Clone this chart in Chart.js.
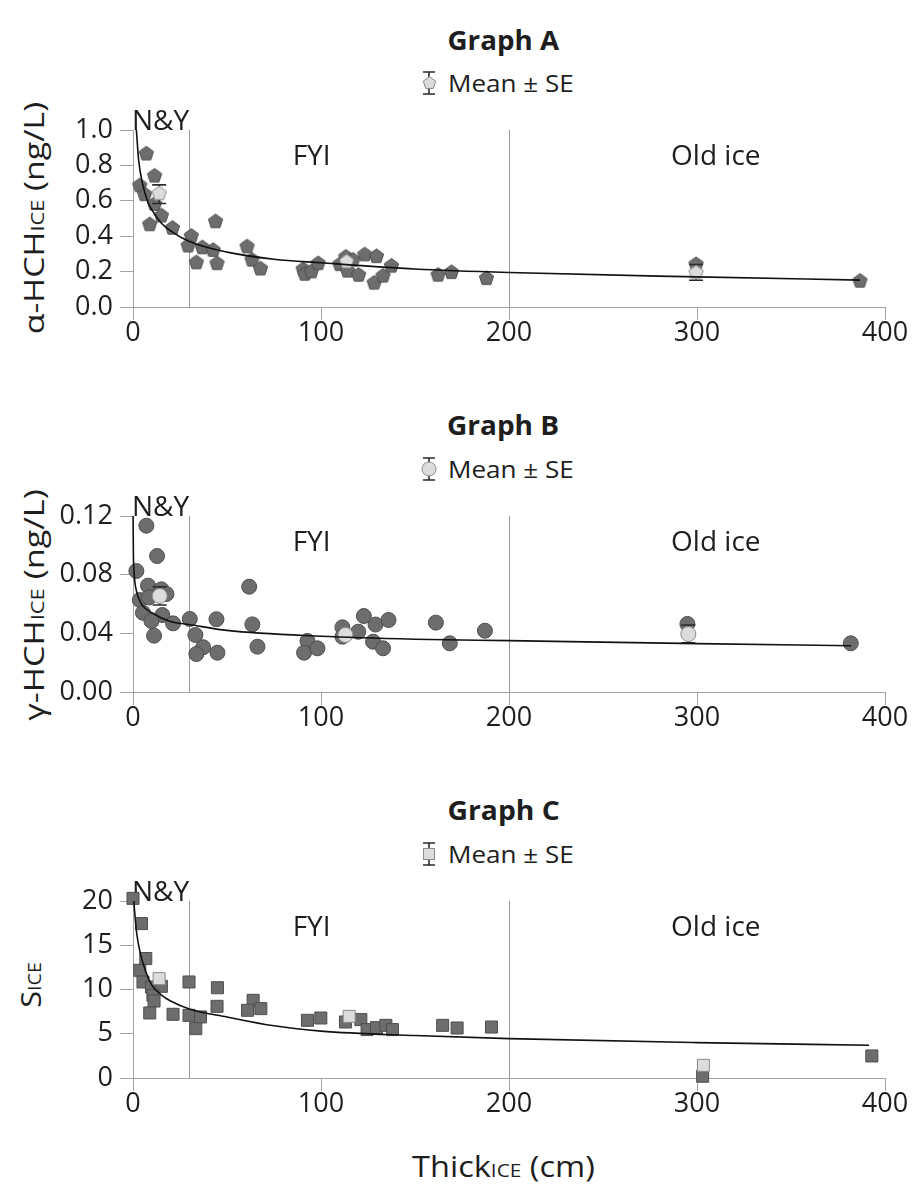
<!DOCTYPE html>
<html><head><meta charset="utf-8">
<script src="https://cdn.jsdelivr.net/npm/chart.js@4.4.1/dist/chart.umd.min.js"></script>
<style>
html,body{margin:0;padding:0;background:#fff;}
body{width:916px;height:1185px;position:relative;overflow:hidden;font-family:"Open Sans",sans-serif;color:#1e1e1e;}
.abs{position:absolute;white-space:nowrap;line-height:1;}
.cv{position:absolute;left:0;}
.sc{font-size:0.64em;}
.title{font-weight:bold;font-size:26px;}
.leg{font-size:24px;display:flex;align-items:center;}
.leg canvas{margin-right:10px;}
.ytitle{font-size:28px;}
</style></head><body>

<div class="abs title fit" data-w="112" data-cx="503" data-cy="40">Graph A</div>
<div class="abs title fit" data-w="112" data-cx="503" data-cy="425">Graph B</div>
<div class="abs title fit" data-w="112" data-cx="503" data-cy="810">Graph C</div>

<div class="abs leg" id="legA" style="left:420px;top:70px;"><canvas id="icoA" width="18" height="26"></canvas><span class="fitl" data-w="126">Mean ± SE</span></div>
<div class="abs leg" id="legB" style="left:420px;top:456px;"><canvas id="icoB" width="18" height="26"></canvas><span class="fitl" data-w="126">Mean ± SE</span></div>
<div class="abs leg" id="legC" style="left:420px;top:841px;"><canvas id="icoC" width="18" height="26"></canvas><span class="fitl" data-w="126">Mean ± SE</span></div>

<div class="abs ytitle fit rot" data-w="232" data-cx="33" data-cy="218">α-HCH<span class="sc">ICE</span> (ng/L)</div>
<div class="abs ytitle fit rot" data-w="232" data-cx="33" data-cy="605">γ-HCH<span class="sc">ICE</span> (ng/L)</div>
<div class="abs ytitle fit rot" data-w="46" data-cx="30" data-cy="985">S<span class="sc">ICE</span></div>
<div class="abs ytitle fit" style="font-size:29px" data-w="183" data-cx="503" data-cy="1165">Thick<span class="sc">ICE</span> (cm)</div>

<canvas id="cA" class="cv" width="916" height="252" style="top:100px;width:916px;height:252px"></canvas>
<canvas id="cB" class="cv" width="916" height="251" style="top:486px;width:916px;height:251px"></canvas>
<canvas id="cC" class="cv" width="916" height="252" style="top:871px;width:916px;height:252px"></canvas>

<script>
// ---------- data ----------
const xTicks = [0, 100, 200, 300, 400];
const zoneBoundaries = [30, 200];
const zoneLabels = ['N&Y', 'FYI', 'Old ice'];
const zoneLabelX = [0, 95, 310];

// Graph A: alpha-HCH (ng/L)
const aX = [7.1,3.6,6.2,11.5,11.5,15.1,8.9,21,31,29.3,36.9,42.6,33.7,44.7,43.9,60.7,63.3,67.8,90.5,91.4,94.9,98.5,110,113.2,114.1,117,120,123.3,129.5,128.3,133,137.5,162.3,169.4,188,299.5,386.7];
const aY = [0.87,0.69,0.64,0.745,0.585,0.52,0.47,0.45,0.405,0.35,0.34,0.325,0.255,0.25,0.487,0.345,0.27,0.22,0.217,0.19,0.204,0.25,0.245,0.287,0.208,0.27,0.185,0.30,0.29,0.14,0.18,0.236,0.185,0.20,0.166,0.245,0.151];
const aMeanX = [13.9, 113.6, 299.5];
const aMeanY = [0.645, 0.26, 0.198];
const aMeanLo = [0.585, null, 0.151];
const aMeanHi = [0.69, null, 0.24];
const aFitX = [1.8,3,5,8,10,15,20,30,50,75,100,150,200,300,386.7];
const aFitY = [1.0,0.83,0.70,0.59,0.55,0.475,0.43,0.37,0.31,0.27,0.25,0.215,0.195,0.17,0.152];
const aYTicks = [0, 0.2, 0.4, 0.6, 0.8, 1.0];

// Graph B: gamma-HCH (ng/L)
const bX = [7.1,12.8,1.8,8.0,15.1,17.8,3.6,8.5,5.3,15.6,9.8,21.3,11.2,30.2,33.2,37.3,33.7,44.4,44.9,61.8,63.5,66.2,92.8,91,98.1,111.4,111.4,119.8,122.8,129,127.7,133,135.9,161.1,168.5,187.2,294.9,381.8];
const bY = [0.1134,0.0927,0.0825,0.0725,0.070,0.0668,0.0627,0.0645,0.054,0.0525,0.0484,0.0468,0.0384,0.0498,0.0389,0.0305,0.0259,0.0496,0.0268,0.0718,0.0461,0.0309,0.0348,0.0268,0.0298,0.0441,0.0377,0.0411,0.0518,0.046,0.0343,0.0298,0.0491,0.0473,0.0332,0.0418,0.0464,0.0332];
const bMeanX = [14.2, 113, 295.4];
const bMeanY = [0.0655, 0.0389, 0.0395];
const bMeanLo = [0.0593, null, 0.0336];
const bMeanHi = [0.0718, null, 0.0457];
const bFitX = [0.05,0.2,0.5,1,2,3,5,10,20,30,50,100,150,200,300,382];
const bFitY = [0.12,0.095,0.083,0.075,0.068,0.064,0.059,0.054,0.048,0.046,0.042,0.038,0.036,0.035,0.033,0.0315];
const bYTicks = [0, 0.04, 0.08, 0.12];

// Graph C: S_ICE
const cX = [0,4.5,6.8,3.6,5.3,9.8,15.1,10.6,11.2,8.9,21.3,29.8,29.8,35.9,33.4,44.9,44.7,63.9,60.9,68,92.8,99.9,113,121.2,124.5,129.5,134.5,138,164.7,172.4,190.7,303,393];
const cY = [20.3,17.45,13.5,12.17,10.85,10.28,10.36,9.35,8.7,7.35,7.2,10.85,7.08,6.9,5.58,10.2,8.1,8.78,7.65,7.84,6.52,6.78,6.33,6.6,5.47,5.69,5.95,5.47,5.95,5.65,5.76,0.2,2.49];
const cMeanX = [13.9, 115, 303.4];
const cMeanY = [11.23, 6.97, 1.43];
const cMeanLo = [null, null, null];
const cMeanHi = [null, null, null];
const cFitX = [0.4,1,2,4,7,10,15,20,30,50,75,100,150,200,300,391.5];
const cFitY = [20,18.5,16.3,14,11.9,10.5,9.4,8.7,7.8,6.9,5.9,5.3,4.8,4.45,4.0,3.7];
const cYTicks = [0, 5, 10, 15, 20];

// ---------- styling helpers ----------
const DARK = '#6d6d6d', DARK_EDGE = '#4f4f4f', LIGHT = '#dcdcdc', LIGHT_EDGE = '#8a8a8a';
const AXIS = '#a3a3a3';

function pentagon(fill, stroke, size) {
  const c = document.createElement('canvas');
  c.width = size; c.height = size;
  const g = c.getContext('2d');
  const r = size / 2 - 1;
  g.beginPath();
  for (let i = 0; i < 5; i++) {
    const a = -Math.PI / 2 + i * 2 * Math.PI / 5;
    const px = size / 2 + r * Math.cos(a), py = size / 2 + r * Math.sin(a) + r * 0.1;
    if (i) g.lineTo(px, py); else g.moveTo(px, py);
  }
  g.closePath();
  g.fillStyle = fill; g.fill();
  g.strokeStyle = stroke; g.lineWidth = 1; g.stroke();
  return c;
}
const pentDark = pentagon(DARK, DARK_EDGE, 17);
const pentLight = pentagon(LIGHT, LIGHT_EDGE, 17);
const pentIcon = pentagon(LIGHT, LIGHT_EDGE, 15);

const pts = (xs, ys) => xs.map((x, i) => ({x, y: ys[i]}));

const zonesPlugin = {
  id: 'zones',
  beforeDatasetsDraw(chart) {
    const {ctx, chartArea: a, scales: {x}} = chart;
    ctx.save();
    ctx.strokeStyle = '#9a9a9a'; ctx.lineWidth = 1;
    zoneBoundaries.forEach(v => {
      const px = Math.round(x.getPixelForValue(v)) + 0.5;
      ctx.beginPath(); ctx.moveTo(px, a.top); ctx.lineTo(px, a.bottom); ctx.stroke();
    });
    ctx.fillStyle = '#1e1e1e';
    ctx.font = '28px "Open Sans"';
    ctx.textBaseline = 'alphabetic';
    ctx.textAlign = 'left';
    ctx.fillText(zoneLabels[0], a.left - 1, a.top);
    ctx.textAlign = 'center';
    ctx.fillText(zoneLabels[1], x.getPixelForValue(zoneLabelX[1]), a.top + 35);
    ctx.fillText(zoneLabels[2], x.getPixelForValue(zoneLabelX[2]), a.top + 35);
    ctx.restore();
  }
};

const errPlugin = {
  id: 'errbars',
  beforeDatasetDraw(chart, args) {
    const ds = chart.data.datasets[args.index];
    if (!ds.errLo) return;
    const {ctx, scales: {x, y}} = chart;
    ctx.save();
    ctx.strokeStyle = '#2a2a2a'; ctx.lineWidth = 1.6;
    ds.data.forEach((p, i) => {
      const lo = ds.errLo[i], hi = ds.errHi[i];
      if (lo == null || hi == null) return;
      const px = x.getPixelForValue(p.x);
      const y1 = y.getPixelForValue(lo), y2 = y.getPixelForValue(hi);
      ctx.beginPath();
      ctx.moveTo(px, y1); ctx.lineTo(px, y2);
      ctx.moveTo(px - 7, y1); ctx.lineTo(px + 7, y1);
      ctx.moveTo(px - 7, y2); ctx.lineTo(px + 7, y2);
      ctx.stroke();
    });
    ctx.restore();
  }
};

function makeChart(id, cfg) {
  const tickFont = {family: 'Open Sans', size: 27, lineHeight: 1};
  return new Chart(document.getElementById(id), {
    type: 'scatter',
    data: {
      datasets: [
        {label: 'fit', data: pts(cfg.fitX, cfg.fitY), showLine: true, pointRadius: 0,
         borderColor: '#111', borderWidth: 1.6, cubicInterpolationMode: 'monotone',
         order: 0, clip: false},
        {label: 'Mean ± SE', data: pts(cfg.meanX, cfg.meanY), errLo: cfg.meanLo, errHi: cfg.meanHi,
         pointStyle: cfg.lightStyle, pointRadius: cfg.radius, backgroundColor: LIGHT,
         borderColor: LIGHT_EDGE, borderWidth: 1, order: 1, clip: false},
        {label: 'samples', data: pts(cfg.x, cfg.y),
         pointStyle: cfg.darkStyle, pointRadius: cfg.radius, backgroundColor: DARK,
         borderColor: DARK_EDGE, borderWidth: 1, order: 2, clip: false}
      ]
    },
    options: {
      responsive: false, animation: false, devicePixelRatio: 1,
      layout: {padding: {left: 0, right: 31, top: 30, bottom: 0}},
      plugins: {legend: {display: false}, tooltip: {enabled: false}},
      scales: {
        x: {
          type: 'linear', min: 0, max: 400,
          afterBuildTicks: s => { s.ticks = xTicks.map(v => ({value: v})); },
          afterFit: s => { s.height = 45; },
          ticks: {font: tickFont, color: '#1e1e1e', padding: 0, maxRotation: 0},
          grid: {drawOnChartArea: false, drawTicks: true, tickLength: 13, color: AXIS},
          border: {color: AXIS, width: 1}
        },
        y: {
          type: 'linear', min: 0, max: cfg.yMax,
          afterBuildTicks: s => { s.ticks = cfg.yTicks.map(v => ({value: v})); },
          afterFit: s => { s.width = 133; },
          ticks: {font: tickFont, color: '#1e1e1e', padding: 7, callback: v => v.toFixed(cfg.dec)},
          grid: {drawOnChartArea: false, drawTicks: true, tickLength: 13, color: AXIS},
          border: {color: AXIS, width: 1}
        }
      }
    },
    plugins: [zonesPlugin, errPlugin]
  });
}

makeChart('cA', {x: aX, y: aY, meanX: aMeanX, meanY: aMeanY, meanLo: aMeanLo, meanHi: aMeanHi,
  fitX: aFitX, fitY: aFitY, yMax: 1.0, yTicks: aYTicks, dec: 1,
  darkStyle: pentDark, lightStyle: pentLight, radius: 8});
makeChart('cB', {x: bX, y: bY, meanX: bMeanX, meanY: bMeanY, meanLo: bMeanLo, meanHi: bMeanHi,
  fitX: bFitX, fitY: bFitY, yMax: 0.12, yTicks: bYTicks, dec: 2,
  darkStyle: 'circle', lightStyle: 'circle', radius: 7.5});
makeChart('cC', {x: cX, y: cY, meanX: cMeanX, meanY: cMeanY, meanLo: cMeanLo, meanHi: cMeanHi,
  fitX: cFitX, fitY: cFitY, yMax: 20, yTicks: cYTicks, dec: 0,
  darkStyle: 'rect', lightStyle: 'rect', radius: 8.5});

// legend icons
function icon(id, shape) {
  const g = document.getElementById(id).getContext('2d');
  g.strokeStyle = '#2a2a2a'; g.lineWidth = 1.6;
  g.beginPath();
  g.moveTo(9, 2); g.lineTo(9, 24);
  g.moveTo(3, 2); g.lineTo(15, 2);
  g.moveTo(3, 24); g.lineTo(15, 24);
  g.stroke();
  g.fillStyle = LIGHT; g.strokeStyle = LIGHT_EDGE; g.lineWidth = 1;
  if (shape === 'pent') { g.drawImage(pentIcon, 2, 5); }
  else if (shape === 'circle') { g.beginPath(); g.arc(9, 13, 7, 0, Math.PI * 2); g.fill(); g.stroke(); }
  else { g.fillRect(3, 7, 12, 12); g.strokeRect(3.5, 7.5, 11, 11); }
}
icon('icoA', 'pent'); icon('icoB', 'circle'); icon('icoC', 'rect');

// fit text to measured widths
document.querySelectorAll('.fit').forEach(el => {
  const w = el.offsetWidth, h = el.offsetHeight;
  const k = (+el.dataset.w) / w;
  el.style.left = (+el.dataset.cx - w / 2) + 'px';
  el.style.top = (+el.dataset.cy - h / 2) + 'px';
  el.style.transform = (el.classList.contains('rot') ? 'rotate(-90deg) ' : '') + 'scaleX(' + k + ')';
});
document.querySelectorAll('.fitl').forEach(el => {
  const k = (+el.dataset.w) / el.offsetWidth;
  el.style.display = 'inline-block';
  el.style.transformOrigin = 'left center';
  el.style.transform = 'scaleX(' + k + ')';
});
</script>
</body></html>
